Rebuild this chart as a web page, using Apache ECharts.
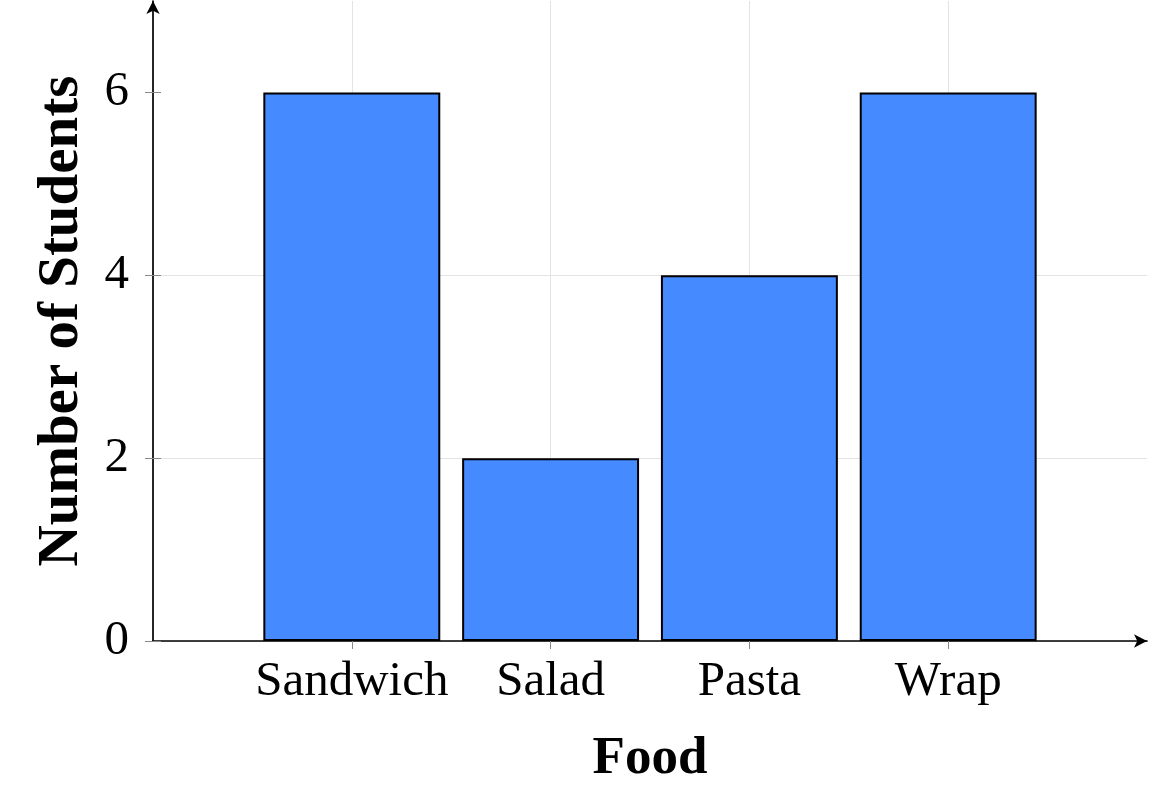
<!DOCTYPE html>
<html>
<head>
<meta charset="utf-8">
<script src="https://cdn.jsdelivr.net/npm/echarts@6/dist/echarts.min.js"></script>
<style>
html,body{margin:0;padding:0;background:#fff;}
#chart{width:1149px;height:786px;}
</style>
</head>
<body>
<div id="chart"></div>
<script>
const categories = ['Sandwich', 'Salad', 'Pasta', 'Wrap'];
const students = [6, 2, 4, 6];
const yTicks = [0, 2, 4, 6];
const xTitle = 'Food';
const yTitle = 'Number of Students';

const FONT = '"Liberation Serif", "Times New Roman", serif';
const axisCats = [''].concat(categories, ['']);
const axisVals = ['-'].concat(students, ['-']);

const chart = echarts.init(document.getElementById('chart'), null, {renderer: 'canvas'});
chart.setOption({
  animation: false,
  backgroundColor: '#ffffff',
  grid: {left: 153, right: 2, top: 1, bottom: 145, containLabel: false, outerBoundsMode: 'none'},
  xAxis: {
    type: 'category',
    data: axisCats,
    boundaryGap: false,
    name: xTitle,
    nameLocation: 'middle',
    nameGap: 92,
    nameTextStyle: {fontFamily: FONT, fontSize: 53, fontWeight: 'bold', color: '#000'},
    axisLine: {show: true, symbol: ['none', 'arrow'], symbolSize: [10, 13], lineStyle: {color: '#000', width: 1.7}},
    axisTick: {show: true, length: 8, interval: (i, v) => v !== '', lineStyle: {color: '#888', width: 1}},
    axisLabel: {fontFamily: FONT, fontSize: 49, color: '#000', margin: 17, interval: 0},
    splitLine: {show: true, interval: (i, v) => v !== '', lineStyle: {color: '#e3e3e3', width: 1}}
  },
  yAxis: [{
    type: 'value',
    min: 0,
    max: 7,
    interval: 2,
    name: yTitle,
    nameLocation: 'middle',
    nameGap: 62,
    nameTextStyle: {fontFamily: FONT, fontSize: 57, fontWeight: 'bold', color: '#000'},
    axisLine: {show: true, symbol: ['none', 'arrow'], symbolSize: [10, 13], lineStyle: {color: '#000', width: 1.7}},
    axisTick: {show: true, length: 8, customValues: yTicks, lineStyle: {color: '#888', width: 1}},
    axisLabel: {fontFamily: FONT, fontSize: 49, color: '#000', margin: 24, customValues: yTicks},
    splitLine: {show: true, showMaxLine: false, lineStyle: {color: '#e3e3e3', width: 1}}
  }, {
    type: 'value',
    position: 'left',
    min: 0,
    max: 7,
    interval: 2,
    axisLine: {show: false},
    axisTick: {show: true, inside: true, length: 8, customValues: yTicks, lineStyle: {color: '#888', width: 1}},
    axisLabel: {show: false},
    splitLine: {show: false}
  }],
  series: [{
    type: 'bar',
    data: axisVals,
    barWidth: '89%',
    itemStyle: {color: '#468aff', borderColor: '#000', borderWidth: 2}
  }]
});
</script>
</body>
</html>
